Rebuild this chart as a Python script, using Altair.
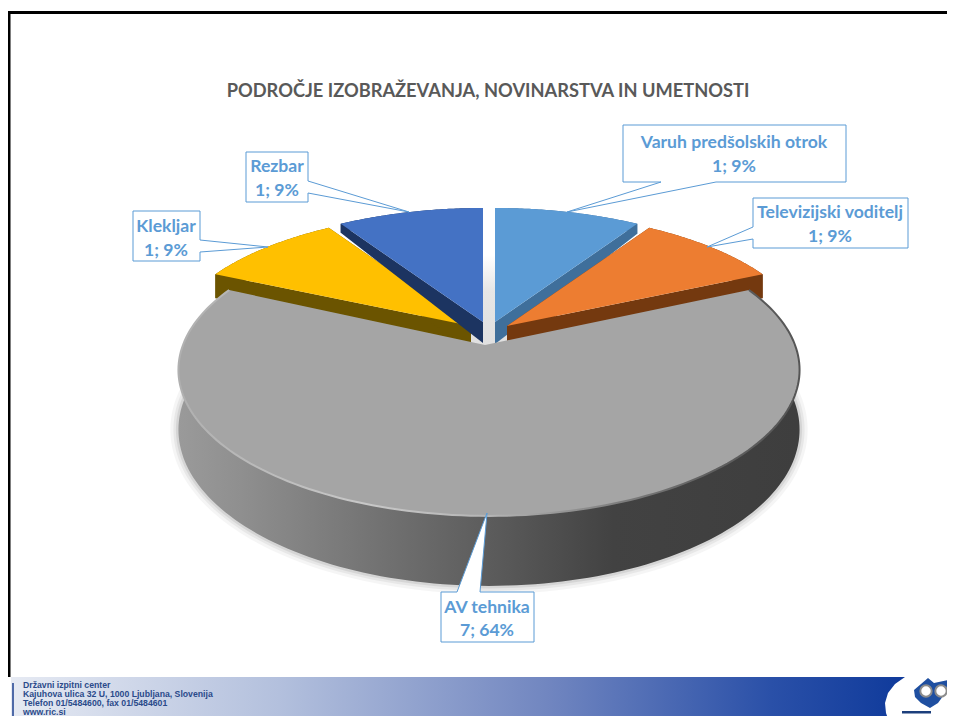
import math
import altair as alt
import pandas as pd

TITLE = "PODROČJE IZOBRAŽEVANJA, NOVINARSTVA IN UMETNOSTI"
CATEGORIES = ["Varuh predšolskih otrok", "Televizijski voditelj", "AV tehnika", "Klekljar", "Rezbar"]
VALUES = [1, 1, 7, 1, 1]
PERCENTS = ["9%", "9%", "64%", "9%", "9%"]
COLORS = ["#5b9bd5", "#ed7d31", "#a5a5a5", "#ffc000", "#4472c4"]
SIDE_COLORS = ["#3f6f9b", "#74390f", "#707070", "#6b5400", "#1c3461"]
FOOTER_LINES = ["Državni izpitni center", "Kajuhova ulica 32 U, 1000 Ljubljana, Slovenija",
                "Telefon 01/5484600, fax 01/5484601", "www.ric.si"]

# layout of the exploded perspective pie (screen pixels)
APEX = [(495, 322), (507, 326), (485, 345), (471, 326), (483, 322)]
CENTER_X = [495, 507, 489, 471, 483]
RADIUS_X = [301.0, 301.0, 306.0, 301.0, 301.0]
DEPTH = [(22, 10), (24, 24), (0, 0), (24, 24), (21, 9)]
P = 0.171
RY = [133.5, 133.5, 141.7, 133.5, 133.5]
BOXES = [(623, 125, 846, 182, "b", 661, 716, 567, 212, 734, [143, 167]),
         (753, 198, 908, 248, "l", 227, 239, 707, 247, 830, [213, 237]),
         (441, 592, 534, 642, "t", 457, 480, 487, 513, 487, [608, 631]),
         (133, 211, 200, 261, "r", 240, 252, 268, 247, 166, [227, 251]),
         (246, 152, 308, 202, "r", 181, 193, 409, 212, 277, [167, 191])]


def feat(ring):
    return {"type": "Feature", "properties": {},
            "geometry": {"type": "Polygon", "coordinates": [list(map(list, ring + [ring[0]]))]}}


def linefeat(pts):
    return {"type": "Feature", "properties": {},
            "geometry": {"type": "LineString", "coordinates": [list(p) for p in pts]}}


def shape(features, **kw):
    return alt.Chart(alt.Data(values=features)).mark_geoshape(**kw).project(
        type="identity", scale=1, translate=[-8, -8])


def hgrad(stops):
    return alt.Gradient(gradient="linear", x1=0, x2=1, y1=0, y2=0,
                        stops=[alt.GradientStop(offset=o, color=c) for o, c in stops])


def vgrad(stops):
    return alt.Gradient(gradient="linear", x1=0, x2=0, y1=0, y2=1,
                        stops=[alt.GradientStop(offset=o, color=c) for o, c in stops])


def rim(i, a0, a1, n=60):
    out = []
    ay = APEX[i][1]
    for k in range(n + 1):
        t = math.radians(a0 + (a1 - a0) * k / n)
        u, v = math.sin(t), math.cos(t)
        s = 1 / (1 + P * v)
        out.append((CENTER_X[i] + RADIUS_X[i] * u * s, ay - RY[i] * v * s, s))
    return out


total = sum(VALUES)
angles, acc = [], 0
for v in VALUES:
    angles.append((acc * 360 / total, (acc + v) * 360 / total))
    acc += v

layers = []

# footer band
footer_curve = [(905, 677), (895, 684), (888, 693), (885, 703), (886, 713), (890, 724)]
layers.append(shape([feat([(11, 677)] + footer_curve + [(11, 724)])], strokeWidth=0,
                    fill=hgrad([(0, "#e6eaf3"), (0.3, "#b3c0dd"), (0.6, "#7186c0"), (0.85, "#2a50a8"), (1, "#0f3a9b")])))
layers.append(shape([feat([(12, 683), (14, 683), (14, 724), (12, 724)])], fill="#4f6aa8", strokeWidth=0))
# frame
layers.append(shape([feat([(7, 11), (955, 11), (955, 14), (10.5, 14), (10.5, 677), (7, 677)])], fill="#000000", strokeWidth=0))
# logo
layers.append(shape([feat([(914, 690), (921, 684), (928, 678), (934, 683), (948, 680), (946, 692), (938, 703), (930, 708), (921, 703), (915, 697)])],
                    fill="#1f4fa0", strokeWidth=0))
layers.append(shape([feat([(902, 711), (931, 711), (931, 713.5), (902, 713.5)])], fill="#1c3f7c", strokeWidth=0))

# gap shading behind the exploded slices
layers.append(shape([feat([(470, 255), (508, 255), (508, 345), (470, 345)])],
                    fill=vgrad([(0, "#ffffff"), (0.4, "#e6e6e6"), (1, "#e0e0e0")]), strokeWidth=0))

# small slices: sides then tops
for idx in [3, 4, 0, 1]:
    a0, a1 = angles[idx]
    if idx in (3, 4):
        a0, a1 = a0 - 360, a1 - 360
    pts = rim(idx, a0, a1)
    ax, ay = APEX[idx]
    dap, drim = DEPTH[idx]
    top_rim = [(x, y) for x, y, _ in pts]
    low_rim = [(x, y + drim) for x, y, _ in pts]
    a_top, a_low = (ax, ay), (ax, ay + dap)
    sides = [feat(top_rim + low_rim[::-1]),
             feat([a_top, top_rim[0], low_rim[0], a_low]),
             feat([a_top, top_rim[-1], low_rim[-1], a_low])]
    layers.append(shape(sides, fill=SIDE_COLORS[idx], strokeWidth=0))
    layers.append(shape([feat([a_top] + top_rim)], fill=COLORS[idx], strokeWidth=0))

# large slice
i = 2
a0, a1 = angles[i]
pts = rim(i, a0, a1, 160)
upper = [(x, y) for x, y, _ in pts]
lower = [(x, y + 58 * s) for x, y, s in pts]
for w, op in [(16, 0.035), (10, 0.05), (5, 0.07)]:
    layers.append(shape([linefeat(lower)], filled=False, stroke="#000000", strokeWidth=w, opacity=op))
layers.append(shape([feat(upper + lower[::-1])], strokeWidth=0,
                    fill=hgrad([(0, "#9a9a9a"), (0.1, "#8f8f8f"), (0.3, "#757575"), (0.5, "#5c5c5c"), (0.7, "#424242"), (1, "#3e3e3e")])))
layers.append(shape([feat([APEX[i]] + upper)], fill=COLORS[i], strokeWidth=0))
layers.append(shape([linefeat(upper)], filled=False, strokeWidth=2,
                    stroke=hgrad([(0, "#b0b0b0"), (0.3, "#c8c8c8"), (0.5, "#b5b5b5"), (0.7, "#808080"), (0.85, "#606060"), (1, "#555555")])))

# callouts
for b in BOXES:
    x0, y0, x1, y1, side, p, q, tx, ty, cx, lines = b
    if side == "b":
        ring = [(x0, y0), (x1, y0), (x1, y1), (q, y1), (tx, ty), (p, y1), (x0, y1)]
    elif side == "t":
        ring = [(x0, y0), (p, y0), (tx, ty), (q, y0), (x1, y0), (x1, y1), (x0, y1)]
    elif side == "l":
        ring = [(x0, y0), (x1, y0), (x1, y1), (x0, y1), (x0, q), (tx, ty), (x0, p)]
    else:
        ring = [(x0, y0), (x1, y0), (x1, p), (tx, ty), (x1, q), (x1, y1), (x0, y1)]
    layers.append(shape([feat(ring)], fill="#ffffff", stroke="#5b9bd5", strokeWidth=1))

xs = alt.Scale(domain=[8, 947], range=[0, 939])
ys = alt.Scale(domain=[8, 716], range=[0, 708])
X = lambda: alt.X("x:Q", scale=xs, axis=None)
Y = lambda: alt.Y("y:Q", scale=ys, axis=None)

label_rows = []
for k, b in enumerate(BOXES):
    label_rows.append({"x": b[9], "y": b[10][0], "t": CATEGORIES[k]})
    label_rows.append({"x": b[9], "y": b[10][1], "t": f"{VALUES[k]}; {PERCENTS[k]}"})
layers.append(alt.Chart(pd.DataFrame(label_rows)).mark_text(
    font="Lato", fontSize=17.6, fontWeight="bold", color="#5b9bd5", align="center", baseline="middle"
).encode(x=X(), y=Y(), text="t:N"))

layers.append(alt.Chart(pd.DataFrame([{"x": 488, "y": 92, "t": TITLE}])).mark_text(
    font="Lato", fontSize=18.25, fontWeight="bold", color="#595959", align="center", baseline="middle"
).encode(x=X(), y=Y(), text="t:N"))

foot = pd.DataFrame({"x": [23] * 4, "y": [685, 694, 703, 712], "t": FOOTER_LINES})
layers.append(alt.Chart(foot).mark_text(
    font="Liberation Sans", fontSize=8.7, fontWeight="bold", color="#2a4a8a", align="left", baseline="middle"
).encode(x=X(), y=Y(), text="t:N"))

# logo glasses
gl = pd.DataFrame({"x": [926, 941], "y": [691, 691]})
layers.append(alt.Chart(gl).mark_point(shape="circle", size=130, filled=True, fill="#ffffff", stroke="#8c8c8c",
                                       strokeWidth=2, opacity=1).encode(x=X(), y=Y()))

chart = alt.layer(*layers).properties(
    width=939, height=708, padding=0, background="#ffffff",
    autosize=alt.AutoSizeParams(type="none")
).configure_view(strokeWidth=0)
chart.save("out.html", embed_options={"renderer": "svg", "actions": False})
